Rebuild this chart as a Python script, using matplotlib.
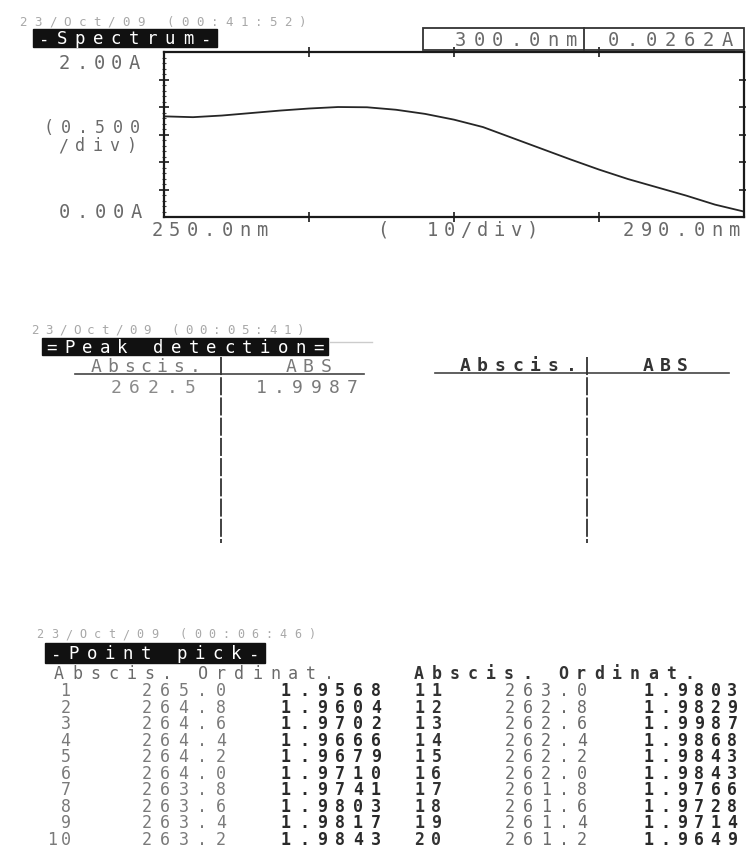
import matplotlib
matplotlib.use("Agg")
import matplotlib.pyplot as plt
from matplotlib.patches import Rectangle
from matplotlib.ticker import FixedLocator

# spectrum trace
wavelength = [250.0, 252.0, 254.0, 256.0, 258.0, 260.0, 262.0, 264.0, 266.0, 268.0,
              270.0, 272.0, 274.0, 276.0, 278.0, 280.0, 282.0, 284.0, 286.0, 288.0, 289.9]
absorbance = [1.22, 1.21, 1.23, 1.26, 1.29, 1.315, 1.333, 1.33, 1.30, 1.25,
              1.18, 1.09, 0.96, 0.83, 0.70, 0.575, 0.46, 0.36, 0.26, 0.15, 0.07]

cursor_wl = "300.0nm"
cursor_abs = "0.0262A"

# peak detection table
peak_abscis = ["262.5"]
peak_abs = ["1.9987"]

# point pick table
pick_index = [str(i) for i in range(1, 21)]
pick_abscis = ["265.0", "264.8", "264.6", "264.4", "264.2", "264.0", "263.8", "263.6", "263.4", "263.2",
               "263.0", "262.8", "262.6", "262.4", "262.2", "262.0", "261.8", "261.6", "261.4", "261.2"]
pick_ordinat = ["1.9568", "1.9604", "1.9702", "1.9666", "1.9679", "1.9710", "1.9741", "1.9803", "1.9817", "1.9843",
                "1.9803", "1.9829", "1.9987", "1.9868", "1.9843", "1.9843", "1.9766", "1.9728", "1.9714", "1.9649"]

W, H, DPI = 746, 850, 100
MONO = "DejaVu Sans Mono"

fig = plt.figure(figsize=(W / DPI, H / DPI), dpi=DPI)
fig.patch.set_facecolor("white")


def px_axes(left, top, right, bottom):
    return [left / W, 1 - bottom / H, (right - left) / W, (bottom - top) / H]


# ---- spectrum plot ----
ax = fig.add_axes(px_axes(164, 52, 744, 217))
ax.plot(wavelength, absorbance, color="#262626", lw=1.3)
ax.set_xlim(250, 290)
ax.set_ylim(0, 2.0)
for s in ax.spines.values():
    s.set_color("#1a1a1a")
    s.set_linewidth(1.6)
ax.xaxis.set_major_locator(FixedLocator([260, 270, 280]))
ax.yaxis.set_major_locator(FixedLocator([1 / 3, 2 / 3, 1.0, 4 / 3, 5 / 3]))
ax.yaxis.set_minor_locator(FixedLocator([i / 15 for i in range(1, 30)]))
ax.tick_params(which="major", direction="inout", length=7, width=1.2, color="#1a1a1a",
               top=True, right=True, labelbottom=False, labelleft=False)
ax.tick_params(which="minor", direction="inout", length=3, width=0.8, color="#444444",
               left=True, right=False)

# ---- overlay in pixel coordinates for the printed text ----
ov = fig.add_axes([0, 0, 1, 1], facecolor="none")
ov.set_xlim(0, W)
ov.set_ylim(H, 0)
ov.axis("off")


def put(x, y, s, pitch, size=13.5, color="#555555", ha="left", weight="normal"):
    # dot-matrix printer: every character sits on a fixed pitch
    if ha == "right":
        x = x - pitch * len(s)
    elif ha == "center":
        x = x - pitch * len(s) / 2
    cap = 0.73 * size * DPI / 72
    for i, ch in enumerate(s):
        if ch == " ":
            continue
        ov.text(x + (i + 0.5) * pitch, y + cap / 2, ch, ha="center", va="baseline",
                fontsize=size, family=MONO, color=color, fontweight=weight)


def label_box(x0, y0, x1, y1, s, pitch):
    ov.add_patch(Rectangle((x0, y0), x1 - x0, y1 - y0, color="#111111", zorder=1))
    put((x0 + x1) / 2, (y0 + y1) / 2, s, pitch, size=12.5, color="white", ha="center")


# spectrum block
put(16, 21, "23/Oct/09 (00:41:52)", 14.7, size=9, color="#a8a8a8")
label_box(33, 29, 217, 47, "-Spectrum-", 18)
ov.add_patch(Rectangle((423, 28), 321, 22, fill=False, ec="#333333", lw=1.3))
ov.plot([584, 584], [28, 50], color="#333333", lw=1.3)
put(581, 39, cursor_wl, 18.5, color="#6a6a6a", ha="right")
put(604, 39, cursor_abs, 19, color="#6a6a6a")
put(143, 62, "2.00A", 17.5, color="#6a6a6a", ha="right")
put(40, 127, "(0.500", 17.2, size=12, color="#6a6a6a")
put(55, 145, "/div)", 17, size=12, color="#6a6a6a")
put(145, 211, "0.00A", 18, color="#6a6a6a", ha="right")
put(148, 229, "250.0nm", 17.6, color="#6a6a6a")
put(374, 229, "(  10/div)", 16.7, color="#6a6a6a")
put(743, 229, "290.0nm", 17.6, color="#6a6a6a", ha="right")

# peak detection block
put(28, 329, "23/Oct/09 (00:05:41)", 14, size=9, color="#a8a8a8")
label_box(42, 338, 328, 355, "=Peak detection=", 17.8)
ov.plot([330, 372], [342, 342], color="#cccccc", lw=1)

put(88, 365, "Abscis.", 16.5, size=13, color="#7a7a7a")
put(282, 365, "ABS", 17.5, size=13, color="#7a7a7a")
ov.plot([75, 364], [374, 374], color="#444444", lw=1.2)
ov.plot([221, 221], [357, 543], color="#333333", lw=1.3, ls=(0, (10, 1.2)))
for i, (a, b) in enumerate(zip(peak_abscis, peak_abs)):
    put(107, 386 + i * 16.5, a, 18.5, size=13, color="#8a8a8a")
    put(252, 386 + i * 16.5, b, 18.3, size=13, color="#7a7a7a")

put(456, 364, "Abscis.", 17.7, size=13, color="#333333", weight="bold")
put(640, 364, "ABS", 17, size=13, color="#333333", weight="bold")
ov.plot([435, 729], [373, 373], color="#444444", lw=1.2)
ov.plot([587, 587], [357, 543], color="#333333", lw=1.3, ls=(0, (10, 1.2)))

# point pick block
put(33, 634, "23/Oct/09 (00:06:46)", 14.3, size=8.5, color="#a8a8a8")
label_box(45, 643, 265, 663, "-Point pick-", 18)
put(50, 673, "Abscis. Ordinat.", 18, size=12, color="#6a6a6a")
put(410, 673, "Abscis. Ordinat.", 18, size=12, color="#333333", weight="bold")

row_y0, row_dy = 690, 16.5
for k in range(10):
    y = row_y0 + k * row_dy
    put(72, y, pick_index[k], 13, size=12, color="#7a7a7a", ha="right")
    put(230, y, pick_abscis[k], 18.6, size=12, color="#7a7a7a", ha="right")
    put(277, y, pick_ordinat[k], 18, size=12, color="#2a2a2a", weight="bold")
    put(411, y, pick_index[k + 10], 17, size=12, color="#333333", weight="bold")
    put(501, y, pick_abscis[k + 10], 18, size=12, color="#6a6a6a")
    put(640, y, pick_ordinat[k + 10], 16.8, size=12, color="#2a2a2a", weight="bold")

fig.savefig("out.png", dpi=DPI, facecolor="white")
